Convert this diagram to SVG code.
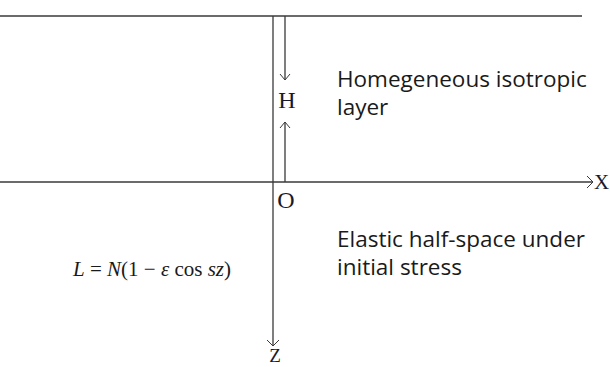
<svg xmlns="http://www.w3.org/2000/svg" width="610" height="367" viewBox="0 0 610 367">
<defs>
<style>
.ln{stroke:#3a3a3a;stroke-width:1.3;fill:none}
.ah{stroke:#3a3a3a;stroke-width:1;fill:none}
.lbl{font-family:"Open Sans","Liberation Sans",sans-serif;font-size:22.5px;fill:#1a1a1a}
.ser{font-family:"Liberation Serif","Times New Roman",serif;fill:#1a1a2e}
.math{font-family:"Liberation Serif","Times New Roman",serif;font-size:21px;fill:#1a1a1a}
</style>
</defs>
<g id="connectors">
<line class="ln" x1="0" y1="16" x2="582" y2="16"/>
<line class="ln" x1="0" y1="182" x2="593" y2="182"/>
<path class="ah" d="M587,176 L593,182 L587,188"/>
<line class="ln" x1="273" y1="16" x2="273" y2="346"/>
<path class="ah" d="M267,340 L273,346 L279,340"/>
<line class="ln" x1="285" y1="16" x2="285" y2="80"/>
<path class="ah" d="M280,74 L285,80 L290,74"/>
<line class="ln" x1="285" y1="182" x2="285" y2="122"/>
<path class="ah" d="M280,128 L285,122 L290,128"/>
</g>
<g id="label-H"><text class="ser" x="287" y="108" font-size="24" text-anchor="middle">H</text></g>
<g id="label-O"><text class="ser" x="286" y="208" font-size="24" text-anchor="middle">O</text></g>
<g id="label-X"><text class="ser" x="594" y="189" font-size="21">X</text></g>
<g id="label-Z"><text class="ser" x="275" y="362" font-size="19" text-anchor="middle">Z</text></g>
<g id="layer"><text class="lbl" x="337" y="87">Homegeneous isotropic</text><text class="lbl" x="337" y="115">layer</text></g>
<g id="halfspace"><text class="lbl" x="337" y="247">Elastic half-space under</text><text class="lbl" x="337" y="275">initial stress</text></g>
<g id="formula"><text class="math" x="73" y="276"><tspan font-style="italic">L</tspan> = <tspan font-style="italic">N</tspan>(1 − <tspan font-style="italic">ε</tspan> cos <tspan font-style="italic">sz</tspan>)</text></g>
</svg>
